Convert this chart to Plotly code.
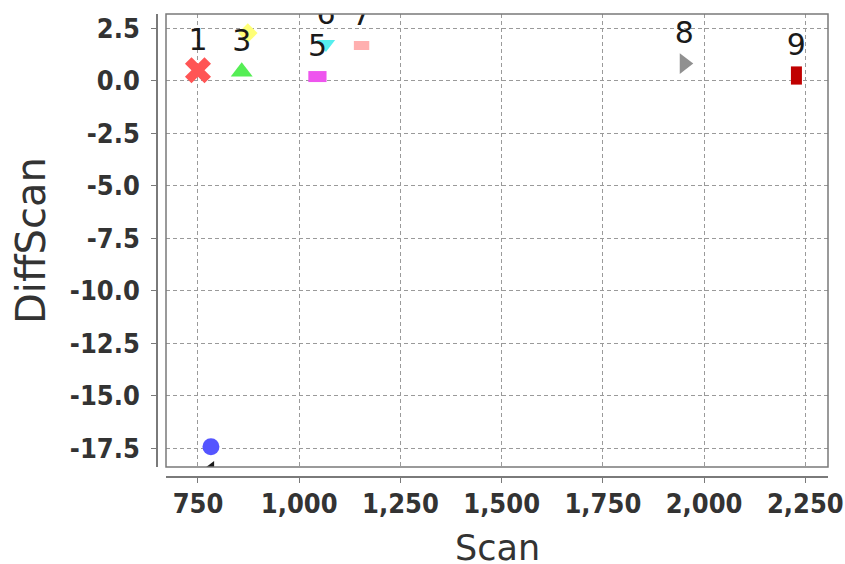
import plotly.graph_objects as go

# Data
scan = [750, 873, 858, 782, 1045, 1066, 1154, 1951, 2228, 780]
diff_scan = [0.50, 2.27, 0.43, -17.44, 0.20, 1.75, 1.68, 0.82, 0.25, -18.55]
labels = ["1", "2", "3", "", "5", "6", "7", "8", "9", ""]
colors = ["#FF5555", "#FFFF77", "#55EE55", "#5555FF", "#EE55EE", "#55EEEE",
          "#FFAFAF", "#909090", "#C00000", "#1a1a1a"]
symbols = ["x", "diamond", "triangle-up", "circle", "line-ew", "triangle-down",
           "line-ew", "triangle-right", "line-ns", "triangle-left"]
sizes = [23, 15, 19, 17, 13, 16, 11, 18, 13, 16]
line_widths = [0, 0, 0, 0, 11, 0, 9, 0, 11, 0]

x_ticks = [750, 1000, 1250, 1500, 1750, 2000, 2250]
x_tick_text = ["750", "1,000", "1,250", "1,500", "1,750", "2,000", "2,250"]
y_ticks = [2.5, 0.0, -2.5, -5.0, -7.5, -10.0, -12.5, -15.0, -17.5]
y_tick_text = ["2.5", "0.0", "-2.5", "-5.0", "-7.5", "-10.0", "-12.5", "-15.0", "-17.5"]

label_offset = 1.33  # label placed above its point (data units)

fig = go.Figure()

for i in range(len(scan)):
    sym = symbols[i]
    is_line = sym.startswith("line")
    fig.add_trace(go.Scatter(
        x=[scan[i]], y=[diff_scan[i]], mode="markers",
        marker=dict(symbol=sym, size=sizes[i], color=colors[i],
                    line=dict(color=colors[i], width=line_widths[i] if is_line else 0)),
        cliponaxis=True, showlegend=False, hoverinfo="skip"))

lab_x = [scan[i] for i in range(len(scan)) if labels[i]]
lab_y = [diff_scan[i] + label_offset for i in range(len(scan)) if labels[i]]
lab_t = [t for t in labels if t]
fig.add_trace(go.Scatter(
    x=lab_x, y=lab_y, mode="text", text=lab_t, textposition="middle center",
    textfont=dict(family="DejaVu Sans", size=30, color="#1a1a1a"),
    cliponaxis=True, showlegend=False, hoverinfo="skip"))

tick_font = dict(family="DejaVu Sans Condensed, Liberation Sans Narrow, DejaVu Sans",
                 size=27, color="#333333", weight="bold")

fig.update_layout(
    width=845, height=564,
    margin=dict(l=157, r=17, t=14, b=87, autoexpand=False),
    paper_bgcolor="white", plot_bgcolor="white",
    xaxis=dict(domain=[9 / 671, 1], anchor="free", position=0, automargin=False,
               range=[671, 2306], tickvals=x_ticks, ticktext=x_tick_text,
               showline=True, linecolor="#7a7a7a", linewidth=1.5,
               ticks="outside", ticklen=5, tickcolor="#7a7a7a",
               ticklabelstandoff=-2,
               showgrid=True, gridcolor="#9a9a9a", gridwidth=1, griddash="4px,3px",
               zeroline=False, tickfont=tick_font),
    yaxis=dict(domain=[10 / 463, 1], anchor="free", position=0, automargin=False,
               range=[-18.40, 3.18], tickvals=y_ticks, ticktext=y_tick_text,
               showline=True, linecolor="#7a7a7a", linewidth=1.5,
               ticks="outside", ticklen=5, tickcolor="#7a7a7a",
               ticklabelstandoff=6,
               showgrid=True, gridcolor="#9a9a9a", gridwidth=1, griddash="4px,3px",
               zeroline=False, tickfont=tick_font),
    shapes=[dict(type="rect", xref="x domain", yref="y domain",
                 x0=0, x1=1, y0=0, y1=1, line=dict(color="#7a7a7a", width=1.5),
                 layer="above")],
    annotations=[
        dict(text="Scan", xref="x domain", yref="paper", x=0.5, y=-0.153,
             xanchor="center", yanchor="middle", showarrow=False,
             font=dict(family="DejaVu Sans", size=35, color="#333333")),
        dict(text="DiffScan", xref="paper", yref="paper", x=-0.1878, y=0.512,
             xanchor="center", yanchor="middle", showarrow=False, textangle=-90,
             font=dict(family="DejaVu Sans", size=40, color="#333333")),
    ],
)

fig.write_html("out.html",
               config={"displayModeBar": False},
               post_script="document.body.style.margin='0';document.body.style.overflow='hidden';")
